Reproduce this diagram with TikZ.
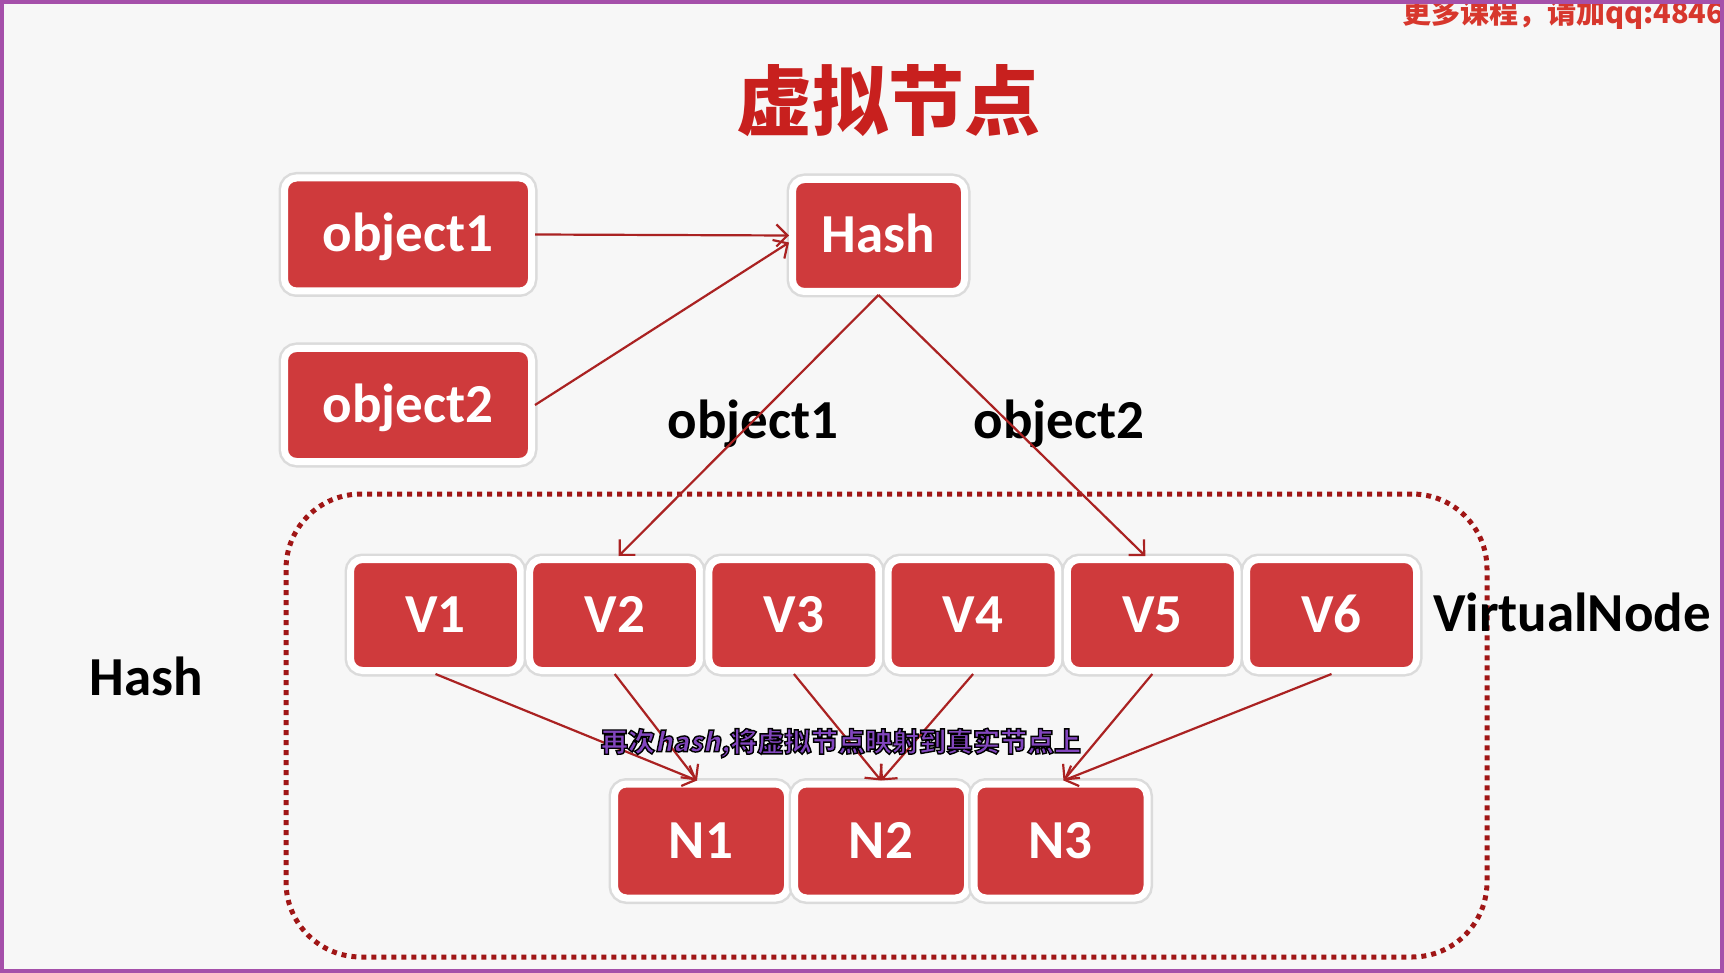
\documentclass[tikz,border=0pt]{standalone}
\usepackage{fontspec}
\setmainfont{Carlito}
\newfontfamily\cjk{Noto Sans CJK SC}
\newfontfamily\cjkslant[FakeSlant=0.2]{Noto Sans CJK SC}
\usetikzlibrary{arrows.meta,calc}
\definecolor{bg}{RGB}{247,247,247}
\definecolor{boxred}{RGB}{207,58,60}
\definecolor{titlered}{RGB}{200,32,30}
\definecolor{arrowred}{RGB}{170,34,34}
\definecolor{dotred}{RGB}{160,22,22}
\definecolor{framecol}{RGB}{165,80,170}
\definecolor{subpurple}{RGB}{130,70,190}
\definecolor{wmred}{RGB}{215,55,45}
\newcommand{\outlon}{\special{pdf:literal direct 2 Tr 1.4 w 0 0 0 RG}}
\newcommand{\outloff}{\special{pdf:literal direct 0 Tr}}
\begin{document}
\begin{tikzpicture}[x=1pt,y=-1pt,
  box/.style={fill=boxred, draw=white, line width=7pt, rounded corners=12pt,
    text=white, font=\fontsize{55}{60}\selectfont\bfseries, inner sep=0pt,
    text height=35pt, text depth=0pt,
    preaction={draw=black!14, line width=12pt}},
  lbl/.style={text=black, font=\fontsize{55}{60}\selectfont\bfseries, inner sep=0pt,
    text height=35pt, text depth=0pt},
  arr/.style={draw=arrowred, line width=2.2pt,
    -{Straight Barb[length=11pt, width=22pt, line width=2.2pt]}},
  dotbox/.style={draw=dotred, line width=5pt, dash pattern=on 5pt off 5pt,
    rounded corners=75pt, inner sep=0pt}
]
\useasboundingbox (0,0) rectangle (1724,973);
\fill[bg] (0,0) rectangle (1724,973);

% title
\node[font=\cjk\bfseries\fontsize{76}{80}\selectfont, text=titlered, inner sep=0pt] (title) at (888,101) {虚拟节点};

% watermark
\node[font=\cjk\bfseries\fontsize{29}{32}\selectfont, text=wmred, anchor=west, inner sep=0pt] (wm) at (1402,14) {更多课程，请加qq:4846};

% group frame
\node[dotbox, minimum width=1201pt, minimum height=463pt] (grp) at (886.5,725.5) {};

% top boxes
\node[box, minimum width=247pt, minimum height=113pt] (o1) at (408,234.5) {object1};
\node[box, minimum width=247pt, minimum height=113pt] (o2) at (408,405) {object2};
\node[box, minimum width=172pt, minimum height=112pt] (hash) at (878.5,235.5) {Hash};

% labels
\node[lbl] (lo1) at (753,421) {object1};
\node[lbl] (lo2) at (1059,421) {object2};
\node[lbl] (lhash) at (146,678) {Hash};
\node[lbl] (lvn) at (1572,614) {VirtualNode};

% virtual nodes
\foreach \i/\x in {1/435.5,2/614.7,3/793.9,4/973.1,5/1152.3,6/1331.5}
  \node[box, minimum width=170pt, minimum height=111pt] (v\i) at (\x,615) {V\i};

% real nodes
\foreach \i/\x in {1/701,2/881,3/1060.5}
  \node[box, minimum width=173pt, minimum height=114pt] (n\i) at (\x,841) {N\i};

% arrows
\draw[arr] (o1.east) -- (hash.west);
\draw[arr] (o2.east) -- ($(hash.west)+(0,7)$);
\draw[arr] (hash.south) -- ($(v2.north)+(4,0)$);
\draw[arr] (hash.south) -- ($(v5.north)+(-7,0)$);
\draw[arr] (v1.south) -- ($(n1.north)+(-4,0)$);
\draw[arr] (v2.south) -- ($(n1.north)+(-4,0)$);
\draw[arr] (v3.south) -- (n2.north);
\draw[arr] (v4.south) -- (n2.north);
\draw[arr] (v5.south) -- ($(n3.north)+(3,0)$);
\draw[arr] (v6.south) -- ($(n3.north)+(3,0)$);

% subtitle
\node[font=\cjk\bfseries\fontsize{27}{30}\selectfont, text=subpurple, inner sep=0pt] (sub) at (841,743)
  {\outlon 再次{\cjkslant hash,}将虚拟节点映射到真实节点上\outloff};

% frame
\draw[framecol, line width=4pt] (2,2) rectangle (1722,971);
\end{tikzpicture}
\end{document}
